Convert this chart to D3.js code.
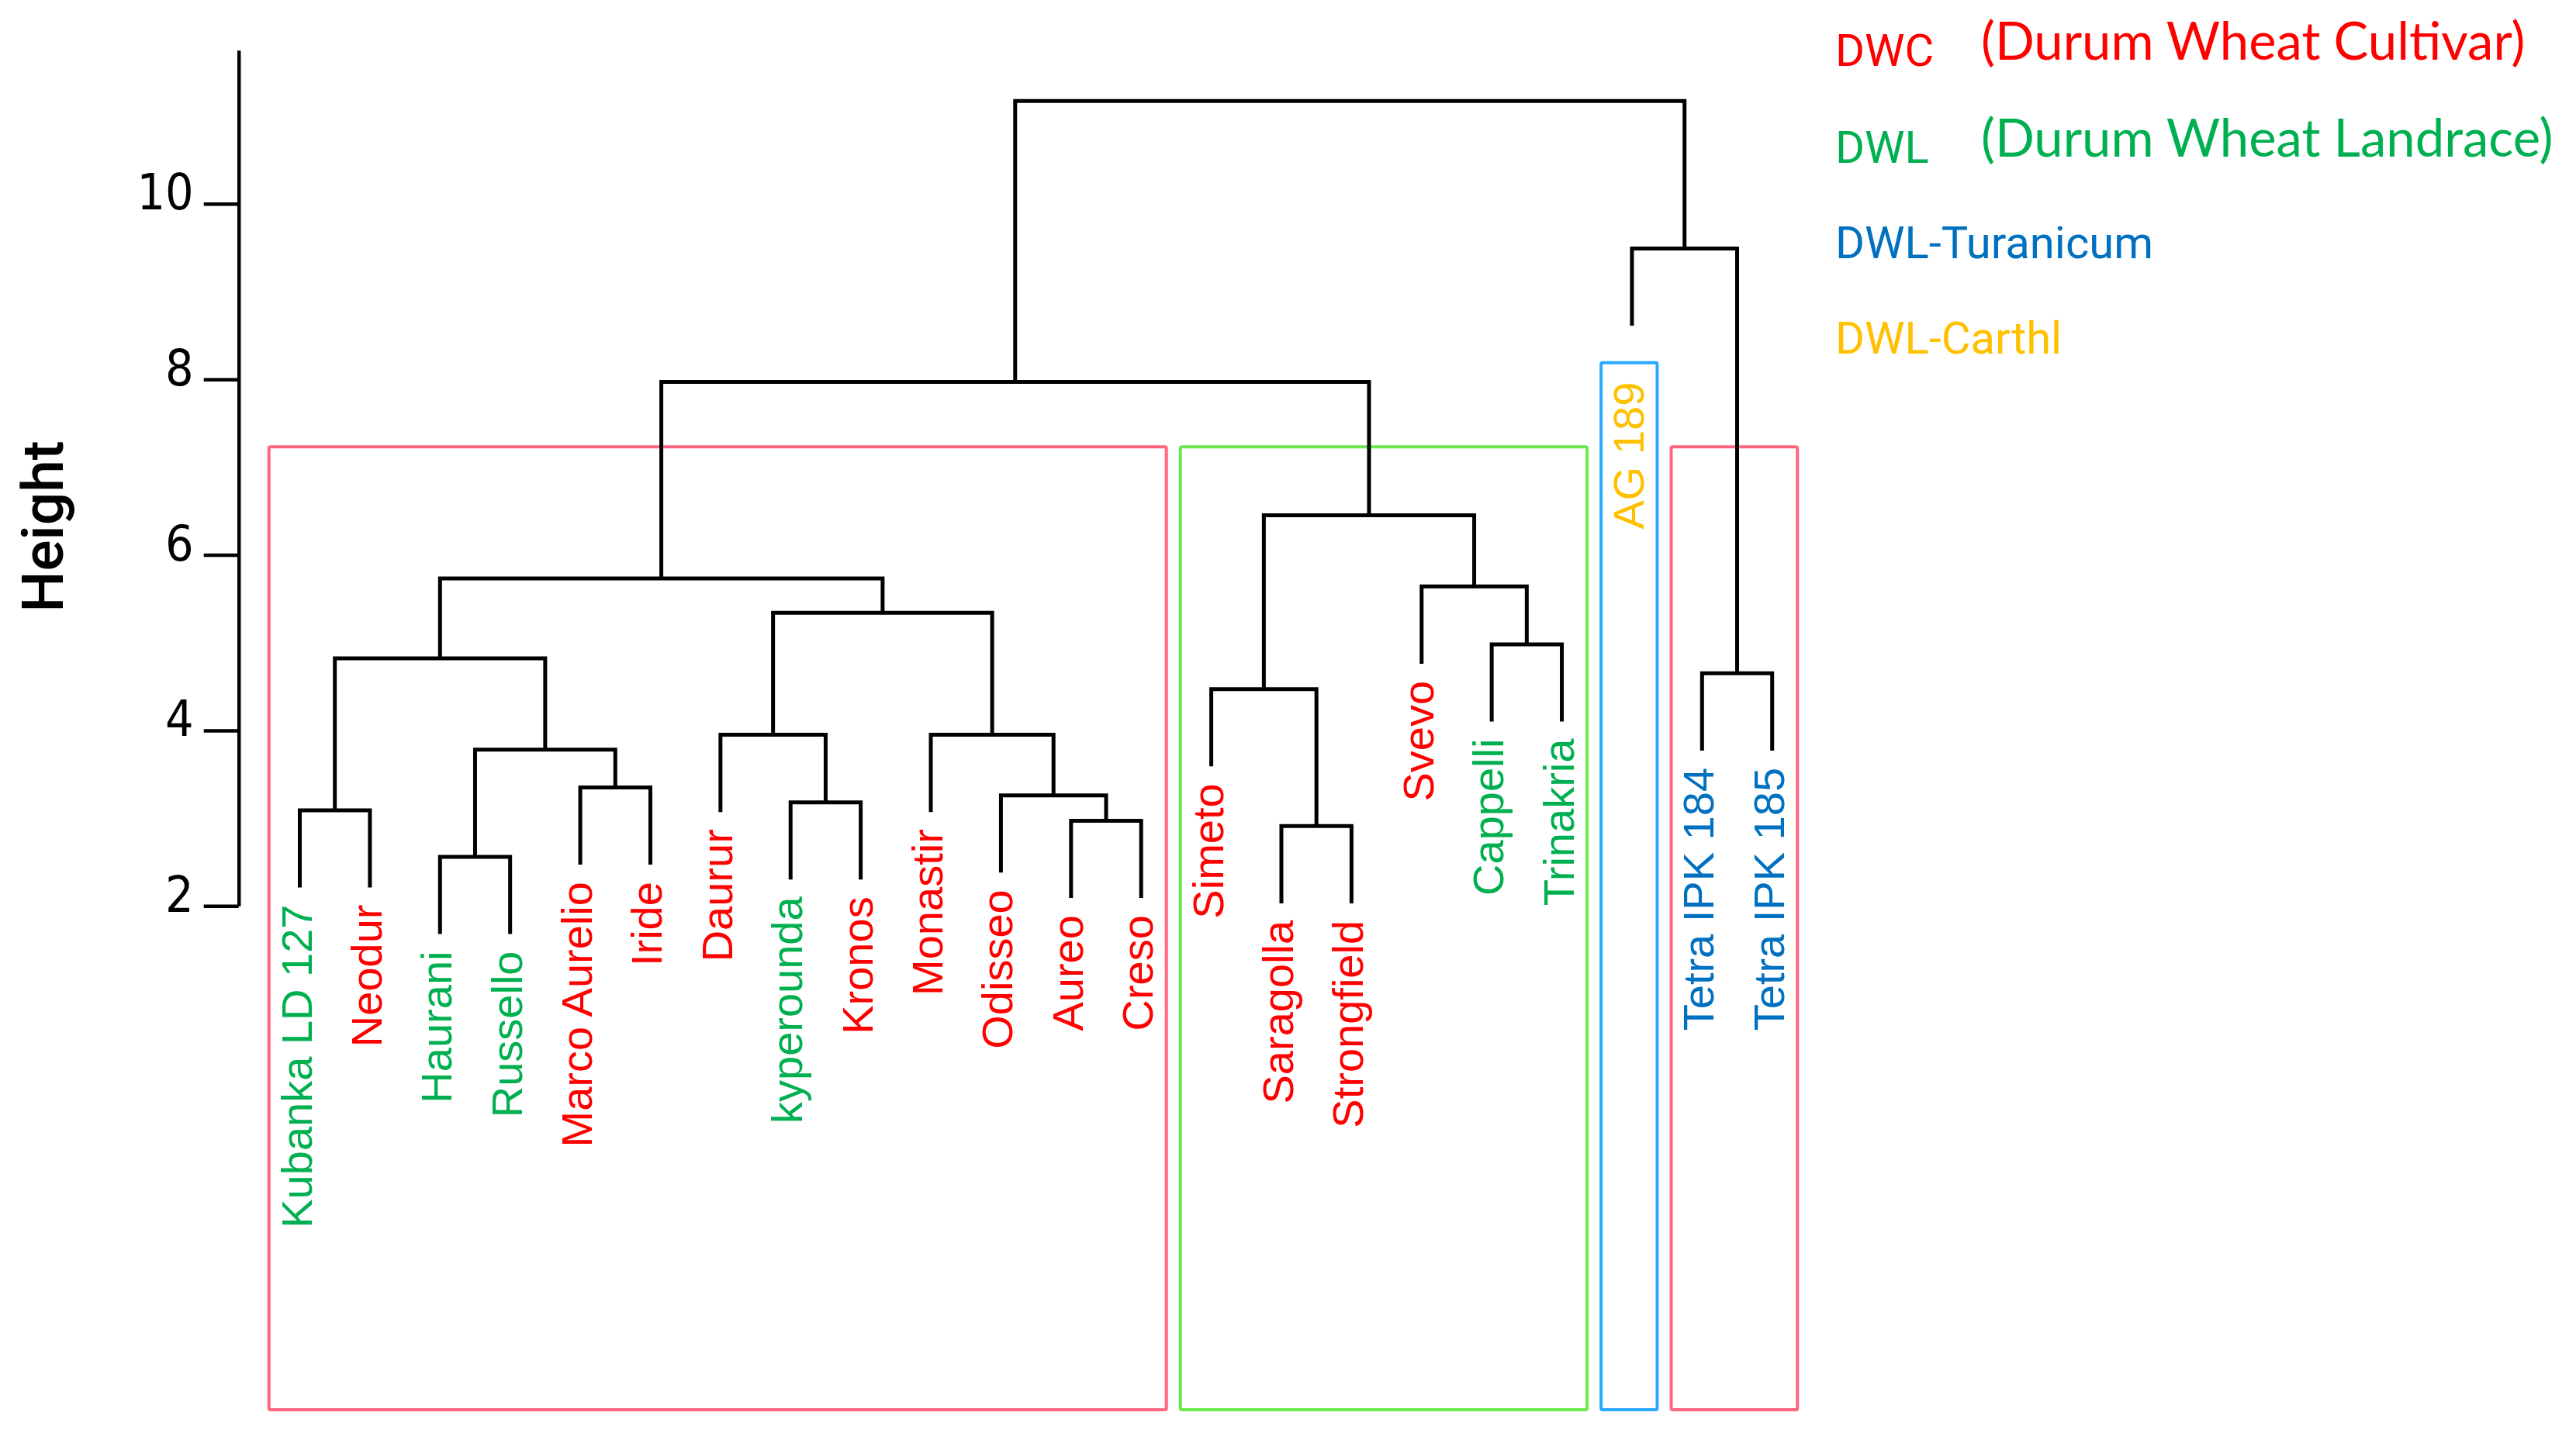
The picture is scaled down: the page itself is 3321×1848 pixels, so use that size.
<!DOCTYPE html>
<html>
<head>
<meta charset="utf-8">
<script src="https://cdn.jsdelivr.net/npm/d3@7"></script>
<style>
  html, body { margin: 0; padding: 0; background: #ffffff; }
  svg { display: block; }
</style>
</head>
<body>
<svg id="chart" width="3321" height="1848"></svg>
<script>
// ---------------- DATA ----------------
const leafLabels = [
  "Kubanka LD 127", "Neodur", "Haurani", "Russello", "Marco Aurelio", "Iride",
  "Daurur", "kyperounda", "Kronos", "Monastir", "Odisseo", "Aureo", "Creso",
  "Simeto", "Saragolla", "Strongfield", "Svevo", "Cappelli", "Trinakria",
  "AG 189", "Tetra IPK 184", "Tetra IPK 185"
];
const leafGroups = [
  "DWL", "DWC", "DWL", "DWL", "DWC", "DWC",
  "DWC", "DWL", "DWC", "DWC", "DWC", "DWC", "DWC",
  "DWC", "DWC", "DWC", "DWC", "DWL", "DWL",
  "DWL-Carthl", "DWL-Turanicum", "DWL-Turanicum"
];
// hclust-style merge matrix: negative = leaf (1-based), positive = earlier merge row (1-based)
const merges = [
  [-3, -4], [-15, -16], [-12, -13], [-1, -2], [-8, -9], [-11, 3], [-5, -6],
  [1, 7], [-7, 5], [-10, 6], [-14, 2], [-21, -22], [4, 8], [-18, -19],
  [9, 10], [-17, 14], [13, 15], [11, 16], [17, 18], [-20, 12], [19, 20]
];
const mergeHeights = [
  2.56, 2.91, 2.97, 3.09, 3.18, 3.26, 3.35,
  3.78, 3.95, 3.95, 4.47, 4.65, 4.82, 4.98,
  5.34, 5.64, 5.73, 6.45, 7.97, 9.49, 11.17
];
const hang = 0.88;
const tickValues = [2, 4, 6, 8, 10];
const axisTop = 11.75;
const yTitle = "Height";

const legendKeys = ["DWC", "DWL", "DWL-Turanicum", "DWL-Carthl"];
const legendNotes = ["(Durum Wheat Cultivar)", "(Durum Wheat Landrace)", "", ""];

// annotation boxes: first / last leaf (1-based), top in height units
const boxFirst = [1, 14, 20, 21];
const boxLast = [13, 19, 20, 22];
const boxTop = [7.23, 7.23, 8.19, 7.23];
const boxStroke = ["#ff6680", "#6ce84e", "#2aa8ff", "#ff6680"];

// ---------------- STYLE ----------------
const groupColor = {
  "DWC": "#ff0000",
  "DWL": "#00b050",
  "DWL-Turanicum": "#0070c0",
  "DWL-Carthl": "#ffc000"
};
const W = 3321, H = 1848;
const svg = d3.select("#chart");
svg.append("rect").attr("width", W).attr("height", H).attr("fill", "#ffffff");

const y = d3.scaleLinear().domain([2, axisTop]).range([1168.3, 64.7]);
const x = d3.scalePoint().domain(leafLabels).range([386.5, 2284.7]);
const step = x.step();

// ---------------- AXIS ----------------
const axis = d3.axisLeft(y).tickValues(tickValues).tickSize(45).tickSizeOuter(0).tickPadding(13);
const gAxis = svg.append("g").attr("transform", "translate(307.7,0)").call(axis);
gAxis.select(".domain").attr("stroke", "#000").attr("stroke-width", 4.5);
gAxis.selectAll(".tick line").attr("stroke", "#000").attr("stroke-width", 4.5);
gAxis.selectAll(".tick text")
  .attr("fill", "#000")
  .attr("dy", "0.11em")
  .style("font-family", "'Liberation Sans Narrow', 'DejaVu Sans Condensed', 'Roboto Condensed', Roboto, sans-serif")
  .style("font-size", "64px");

svg.append("text")
  .attr("transform", "translate(81,679) rotate(-90)")
  .attr("text-anchor", "middle")
  .style("font-family", "Roboto, 'Liberation Sans', sans-serif")
  .style("font-weight", 500)
  .style("font-size", "75px")
  .attr("fill", "#000")
  .text(yTitle);

// ---------------- BOXES ----------------
const boxBottom = H - 30;
boxFirst.forEach((f, i) => {
  const x0 = x(leafLabels[f - 1]) - 0.44 * step;
  const x1 = x(leafLabels[boxLast[i] - 1]) + 0.36 * step;
  svg.append("rect")
    .attr("x", x0).attr("y", y(boxTop[i]))
    .attr("width", x1 - x0).attr("height", boxBottom - y(boxTop[i]))
    .attr("fill", "none")
    .attr("stroke", boxStroke[i])
    .attr("stroke-width", 4)
    .attr("rx", 2);
});

// ---------------- DENDROGRAM ----------------
const nodes = [];
const leafEnd = new Array(leafLabels.length);
merges.forEach((m, i) => {
  const h = mergeHeights[i];
  const ch = m.map(c => {
    if (c < 0) {
      const idx = -c - 1;
      leafEnd[idx] = h - hang;
      return { x: x(leafLabels[idx]), top: h - hang };
    }
    return { x: nodes[c - 1].x, top: mergeHeights[c - 1] };
  });
  nodes.push({ x: (ch[0].x + ch[1].x) / 2, h: h, ch: ch });
});

const line = d3.line();
svg.append("g").selectAll("path").data(nodes).join("path")
  .attr("d", n => line([
    [n.ch[0].x, y(n.ch[0].top)],
    [n.ch[0].x, y(n.h)],
    [n.ch[1].x, y(n.h)],
    [n.ch[1].x, y(n.ch[1].top)]
  ]))
  .attr("fill", "none")
  .attr("stroke", "#000")
  .attr("stroke-width", 5)
  .attr("stroke-linejoin", "miter")
  .attr("stroke-linecap", "butt");

// ---------------- LEAF LABELS ----------------
function boxTopFor(i) {
  const k = boxFirst.findIndex((f, j) => i + 1 >= f && i + 1 <= boxLast[j]);
  return k < 0 ? -Infinity : y(boxTop[k]);
}
svg.append("g").selectAll("text").data(leafLabels).join("text")
  .attr("transform", (d, i) => {
    const top = Math.max(y(leafEnd[i]) + 22, boxTopFor(i) + 25);
    return `translate(${x(d) + 15},${top}) rotate(-90)`;
  })
  .attr("text-anchor", "end")
  .style("font-family", "'Liberation Sans', Arial, sans-serif")
  .style("font-size", "56px")
  .attr("fill", (d, i) => groupColor[leafGroups[i]])
  .text(d => d);

// ---------------- LEGEND ----------------
const legendBase = [85, 210, 333, 456];
const g = svg.append("g");
legendKeys.forEach((k, i) => {
  g.append("text")
    .attr("x", 2366).attr("y", legendBase[i])
    .style("font-family", "Roboto, 'Liberation Sans', sans-serif")
    .style("font-size", "58px")
    .attr("fill", groupColor[k])
    .text(k);
  if (legendNotes[i]) {
    g.append("text")
      .attr("x", 2554).attr("y", legendBase[i] - 8)
      .style("font-family", "Lato, 'Open Sans', sans-serif")
      .style("font-size", "67px")
      .attr("fill", groupColor[k])
      .text(legendNotes[i]);
  }
});
</script>
</body>
</html>
